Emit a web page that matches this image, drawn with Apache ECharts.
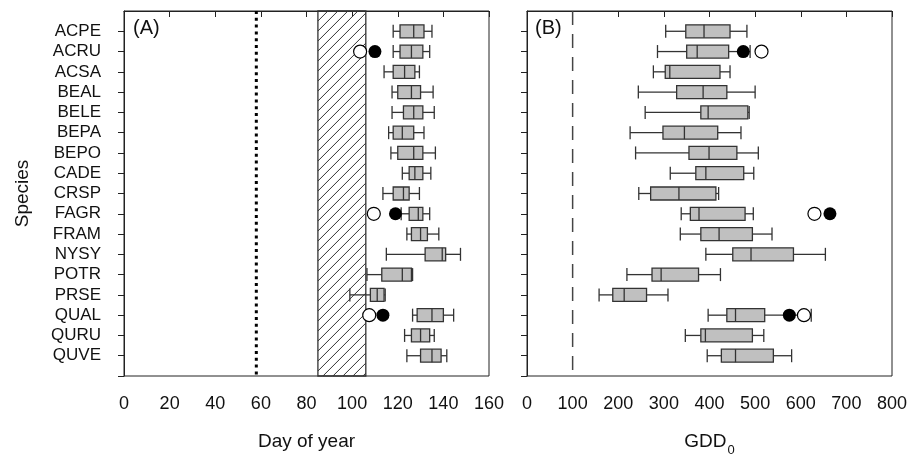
<!DOCTYPE html>
<html style="height: 100%">
<head>
  <meta charset="utf-8">
</head>
<body style="height: 100%; margin: 0">
  <div id="container" style="width: 907px; height: 454px"></div>
  <script src="https://cdn.jsdelivr.net/npm/echarts@6/dist/echarts.min.js"></script>
  <script type="text/javascript">
    // species, top to bottom
    var species = ['ACPE', 'ACRU', 'ACSA', 'BEAL', 'BELE', 'BEPA', 'BEPO', 'CADE', 'CRSP',
                   'FAGR', 'FRAM', 'NYSY', 'POTR', 'PRSE', 'QUAL', 'QURU', 'QUVE'];

    // (A) day of year: [whisker low, q1, median, q3, whisker high]
    var doyBoxes = [
      [118, 121, 127, 131.5, 135],
      [118, 121, 126, 131, 134],
      [114, 118, 123, 127.5, 129.5],
      [117.5, 120, 126, 130, 135.5],
      [117.5, 122.5, 127, 131, 136],
      [116, 118, 122, 127, 131.5],
      [117, 120, 127, 131, 136.5],
      [122, 125, 127.5, 131, 134.5],
      [113.5, 118, 122.5, 125, 129.5],
      [121.5, 125, 129, 131, 134],
      [124, 126, 130, 133, 138],
      [115, 132, 139.5, 141, 147.5],
      [106.5, 113, 122, 126, 126.5],
      [99, 108, 111, 114, 114.5],
      [126.5, 128.5, 135, 140, 144.5],
      [123, 126, 130, 134, 136],
      [124, 130, 135, 139, 141.5]
    ];
    var doyOpen = [['ACRU', 103.5], ['FAGR', 109.5], ['QUAL', 107.5]];
    var doyFilled = [['ACRU', 110], ['FAGR', 119], ['QUAL', 113.5]];
    var doyDotted = 58;
    var doyBand = [85, 106];

    // (B) GDD0
    var gddBoxes = [
      [304, 348, 388, 445, 482],
      [286, 350, 373, 442, 489],
      [277, 303, 313, 423, 445],
      [244, 328, 386, 438, 500],
      [259, 381, 397, 484, 487],
      [226, 298, 345, 418, 469],
      [238, 355, 399, 460, 507],
      [314, 370, 392, 475, 497],
      [245, 271, 333, 414, 420],
      [338, 358, 377, 478, 496],
      [336, 381, 421, 494, 537],
      [392, 451, 491, 584, 654],
      [219, 274, 294, 376, 424],
      [158, 188, 213, 262, 309],
      [397, 438, 457, 521, 623],
      [347, 381, 391, 494, 519],
      [395, 426, 457, 540, 580]
    ];
    var gddOpen = [['ACRU', 514], ['FAGR', 630], ['QUAL', 607]];
    var gddFilled = [['ACRU', 474], ['FAGR', 664], ['QUAL', 575]];
    var gddDashed = 100;

    var xTicksA = [0, 160, 20];
    var xTicksB = [0, 800, 100];

    var FONT = 'Liberation Sans, Arial, sans-serif';
    var INK = '#222';

    var yTickVals = [];
    var yLabelVals = [];
    for (var i = 1; i <= species.length; i++) { yTickVals.push(i); yLabelVals.push(i); }
    yTickVals.push(species.length + 1);

    function boxItem(params, api) {
      var y = api.value(0);
      var lo = api.coord([api.value(1), y]);
      var q1 = api.coord([api.value(2), y]);
      var md = api.coord([api.value(3), y]);
      var q3 = api.coord([api.value(4), y]);
      var hi = api.coord([api.value(5), y]);
      var cy = lo[1], h = 6.5;
      var st = { stroke: '#333', lineWidth: 1.3 };
      return {
        type: 'group',
        children: [
          { type: 'line', shape: { x1: lo[0], y1: cy, x2: q1[0], y2: cy }, style: st },
          { type: 'line', shape: { x1: q3[0], y1: cy, x2: hi[0], y2: cy }, style: st },
          { type: 'line', shape: { x1: lo[0], y1: cy - h, x2: lo[0], y2: cy + h }, style: st },
          { type: 'line', shape: { x1: hi[0], y1: cy - h, x2: hi[0], y2: cy + h }, style: st },
          { type: 'rect', shape: { x: q1[0], y: cy - h, width: q3[0] - q1[0], height: 2 * h },
            style: { fill: '#c0c0c0', stroke: '#333', lineWidth: 1.3 } },
          { type: 'line', shape: { x1: md[0], y1: cy - h, x2: md[0], y2: cy + h }, style: st }
        ]
      };
    }

    // hatched band: rectangle + "/" lines clipped to it
    function bandItem(params, api) {
      var a = api.coord([api.value(0), 0]);
      var b = api.coord([api.value(1), species.length + 1]);
      var x0 = a[0], x1 = b[0], y0 = a[1], y1 = b[1];
      var kids = [];
      var step = 10;
      for (var c = x0 + y0; c <= x1 + y1; c += step) {
        var lo = Math.max(x0, c - y1), hi = Math.min(x1, c - y0);
        if (lo < hi) {
          kids.push({ type: 'line', shape: { x1: lo, y1: c - lo, x2: hi, y2: c - hi },
                      style: { stroke: '#333', lineWidth: 1 } });
        }
      }
      kids.push({ type: 'rect', shape: { x: x0, y: y0, width: x1 - x0, height: y1 - y0 },
                  style: { fill: 'none', stroke: '#333', lineWidth: 1.3 } });
      return { type: 'group', children: kids };
    }

    function toPts(list) {
      return list.map(function (d) { return [d[1], species.indexOf(d[0]) + 1]; });
    }
    function boxData(boxes) {
      return boxes.map(function (b, i) { return [i + 1].concat(b); });
    }

    function xAxis(idx, t) {
      return {
        gridIndex: idx, type: 'value', min: t[0], max: t[1], interval: t[2],
        axisLine: { lineStyle: { color: INK, width: 1 } },
        axisTick: { show: true, length: 6, lineStyle: { color: INK } },
        axisLabel: { color: '#111', fontSize: 18, fontFamily: FONT, margin: 19 },
        splitLine: { show: false },
        nameLocation: 'middle', nameGap: 56,
        nameTextStyle: { color: '#111', fontSize: 19, fontFamily: FONT }
      };
    }
    function yAxis(idx, showLabels) {
      return {
        gridIndex: idx, type: 'value', min: 0, max: species.length + 1, inverse: true,
        axisLine: { lineStyle: { color: INK, width: 1 } },
        axisTick: { show: true, length: 6, customValues: yTickVals, lineStyle: { color: INK } },
        axisLabel: {
          show: showLabels, customValues: yLabelVals, color: '#111', fontSize: 17,
          fontFamily: FONT, margin: 23,
          formatter: function (v) { return species[v - 1] || ''; }
        },
        splitLine: { show: false }
      };
    }

    var myChart = echarts.init(document.getElementById('container'));
    var xa = xAxis(0, xTicksA); xa.name = 'Day of year';
    var xb = xAxis(1, xTicksB); xb.name = '{m|GDD}{s|0}';
    xb.nameTextStyle.rich = {
      m: { fontSize: 19, fontFamily: FONT, color: '#111', verticalAlign: 'top', lineHeight: 22 },
      s: { fontSize: 13, fontFamily: FONT, color: '#111', verticalAlign: 'top', lineHeight: 14, padding: [12, 0, 0, 1] }
    };
    var ya = yAxis(0, true);
    ya.name = 'Species'; ya.nameLocation = 'middle'; ya.nameGap = 92; ya.nameRotate = 90;
    ya.nameTextStyle = { color: '#111', fontSize: 19, fontFamily: FONT };

    var option = {
      animation: false,
      backgroundColor: '#fff',
      grid: [
        { left: 124, top: 11, width: 365, height: 365, show: true, borderColor: INK, borderWidth: 1,
          outerBoundsMode: 'none' },
        { left: 527, top: 11, width: 365, height: 365, show: true, borderColor: INK, borderWidth: 1,
          outerBoundsMode: 'none' }
      ],
      xAxis: [xa, xb],
      yAxis: [ya, yAxis(1, false)],
      graphic: [
        { type: 'text', left: 133, top: 18, style: { text: '(A)', font: '20px ' + FONT, fill: '#111' } },
        { type: 'text', left: 535, top: 18, style: { text: '(B)', font: '20px ' + FONT, fill: '#111' } }
      ],
      series: [
        { type: 'custom', xAxisIndex: 0, yAxisIndex: 0, z: 1, renderItem: bandItem,
          data: [doyBand], encode: { x: [0, 1] } },
        { type: 'line', xAxisIndex: 0, yAxisIndex: 0, z: 1, symbol: 'none',
          data: [[doyDotted, 0], [doyDotted, species.length + 1]],
          lineStyle: { color: '#000', width: 3, type: [3, 3.8] } },
        { type: 'custom', xAxisIndex: 0, yAxisIndex: 0, z: 2, renderItem: boxItem,
          data: boxData(doyBoxes), encode: { x: [1, 2, 3, 4, 5], y: 0 } },
        { type: 'scatter', xAxisIndex: 0, yAxisIndex: 0, z: 3, symbolSize: 13, data: toPts(doyOpen),
          itemStyle: { color: '#fff', borderColor: '#000', borderWidth: 1.2, opacity: 1 } },
        { type: 'scatter', xAxisIndex: 0, yAxisIndex: 0, z: 3, symbolSize: 13, data: toPts(doyFilled),
          itemStyle: { color: '#000', opacity: 1 } },

        { type: 'line', xAxisIndex: 1, yAxisIndex: 1, z: 1, symbol: 'none',
          data: [[gddDashed, 0], [gddDashed, species.length + 1]],
          lineStyle: { color: '#444', width: 1.5, type: [14, 9] } },
        { type: 'custom', xAxisIndex: 1, yAxisIndex: 1, z: 2, renderItem: boxItem,
          data: boxData(gddBoxes), encode: { x: [1, 2, 3, 4, 5], y: 0 } },
        { type: 'scatter', xAxisIndex: 1, yAxisIndex: 1, z: 3, symbolSize: 13, data: toPts(gddOpen),
          itemStyle: { color: '#fff', borderColor: '#000', borderWidth: 1.2, opacity: 1 } },
        { type: 'scatter', xAxisIndex: 1, yAxisIndex: 1, z: 3, symbolSize: 13, data: toPts(gddFilled),
          itemStyle: { color: '#000', opacity: 1 } }
      ]
    };
    myChart.setOption(option);
  </script>
</body>
</html>
